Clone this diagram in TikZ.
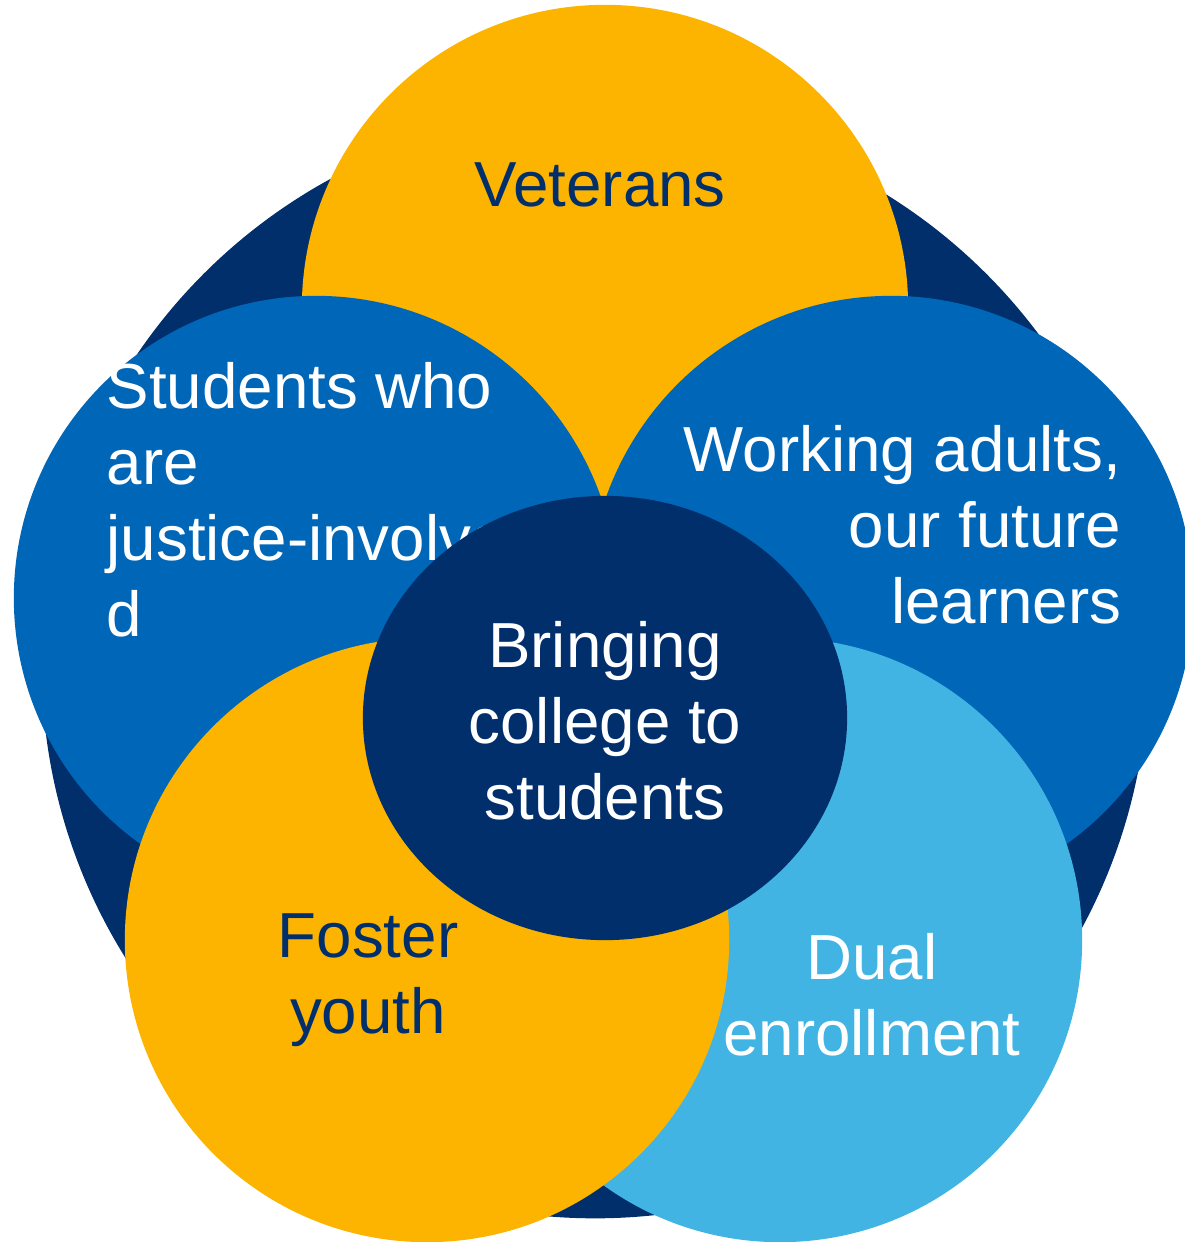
\documentclass[tikz,border=0pt]{standalone}
\usepackage{fontspec}
\setmainfont{Liberation Sans}
\usepackage{tikz}
\usetikzlibrary{shapes.geometric}
\definecolor{cccnavy}{HTML}{002F6C}
\definecolor{cccgold}{HTML}{FDB400}
\definecolor{cccblue}{HTML}{0066B8}
\definecolor{cccsky}{HTML}{41B4E4}
\pgfdeclarelayer{disclayer}
\pgfdeclarelayer{textlayer}
\pgfsetlayers{disclayer,textlayer,main}
\tikzstyle{bigdisc}=[circle, fill=cccnavy, draw=none, inner sep=0pt, minimum size=11.06cm]
\tikzstyle{disc}=[circle, draw=none, inner sep=0pt, minimum size=6.04cm]
\tikzstyle{hub}=[ellipse, fill=cccnavy, draw=none, inner sep=0pt, minimum width=4.84cm, minimum height=4.44cm]
\tikzstyle{lighttext}=[text=white, inner sep=0pt, font=\fontsize{18.1}{21.6}\selectfont]
\tikzstyle{darktext}=[text=cccnavy, inner sep=0pt, font=\fontsize{18.1}{21.6}\selectfont]

\begin{document}
\begin{tikzpicture}[x=0.01cm, y=-0.01cm]
	\useasboundingbox (0,0) rectangle (1184,1242);
	\begin{pgfonlayer}{disclayer}

	%outer ring
		\node [style=bigdisc] (ring) at (595,665) {};

	%groups
		\node [style=disc, fill=cccgold, minimum size=6.06cm] (veterans) at (605,308) {};
		\node [style=disc, fill=cccblue] (justice) at (316,598) {};
		\node [style=disc, fill=cccblue] (working) at (891,598) {};
		\node [style=disc, fill=cccsky] (dual) at (780,940) {};
		\node [style=disc, fill=cccgold] (foster) at (427,940) {};

	\end{pgfonlayer}
	\begin{pgfonlayer}{textlayer}

		\node [style=darktext, anchor=north] (veteranstext) at (600,162) {Veterans};
		\node [style=lighttext, anchor=north west, align=left] (justicetext) at (106,362) {Students who\\are\\justice-involve\\d};
		\node [style=lighttext, anchor=north east, align=right] (workingtext) at (1122,425) {Working adults,\\our future\\learners};
		\node [style=darktext, anchor=north, align=center] (fostertext) at (368,913) {Foster\\youth};
		\node [style=lighttext, anchor=north, align=center] (dualtext) at (872,933) {Dual\\enrollment};

	\end{pgfonlayer}

	%centre
	\node [style=hub] (hub) at (605,718) {};
	\node [style=lighttext, anchor=north, align=center] (hubtext) at (605,621) {Bringing\\college to\\students};
\end{tikzpicture}
\end{document}
